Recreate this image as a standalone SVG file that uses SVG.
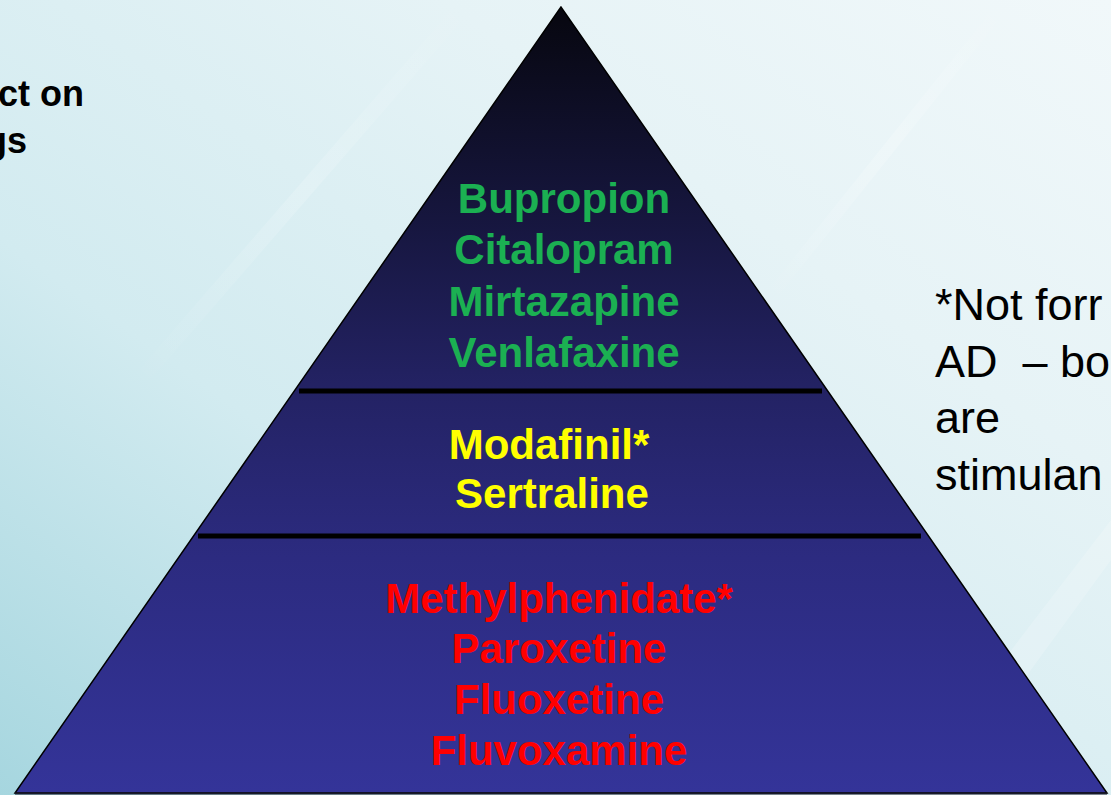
<svg xmlns="http://www.w3.org/2000/svg" width="1111" height="795" viewBox="0 0 1111 795">
  <defs>
    <linearGradient id="bg" x1="0" y1="1" x2="1" y2="0">
      <stop offset="0" stop-color="#a6d6df"/>
      <stop offset="0.35" stop-color="#d2ebf0"/>
      <stop offset="0.7" stop-color="#e6f3f6"/>
      <stop offset="1" stop-color="#f1f8fa"/>
    </linearGradient>
    <linearGradient id="pyr" x1="0" y1="0" x2="0" y2="1">
      <stop offset="0" stop-color="#07070f"/>
      <stop offset="0.2" stop-color="#121232"/>
      <stop offset="0.48" stop-color="#232263"/>
      <stop offset="0.7" stop-color="#2c2b80"/>
      <stop offset="1" stop-color="#343499"/>
    </linearGradient>
    <linearGradient id="streak" x1="0" y1="1" x2="1" y2="0">
      <stop offset="0" stop-color="#ffffff" stop-opacity="0"/>
      <stop offset="0.5" stop-color="#ffffff" stop-opacity="0.35"/>
      <stop offset="1" stop-color="#ffffff" stop-opacity="0"/>
    </linearGradient>
    <style>
      .tier { font-family: "Liberation Sans", Arial, sans-serif; font-weight: bold; font-size: 42px; text-anchor: middle; }
      .green { fill: #1bb052; }
      .yellow { fill: #ffff00; }
      .red { fill: #ff0000; }
      .divider { stroke: #000000; stroke-width: 5; }
      .side { font-family: "Liberation Sans", Arial, sans-serif; fill: #000000; }
      .title { font-weight: bold; font-size: 36px; }
      .note { font-size: 45px; }
    </style>
  </defs>

  <g id="background">
    <rect x="0" y="0" width="1111" height="795" fill="url(#bg)"/>
    <path d="M130 380 L460 0 L480 0 L150 380 Z" fill="url(#streak)" opacity="0.5"/>
    <path d="M760 300 L1000 0 L1015 0 L775 300 Z" fill="url(#streak)" opacity="0.6"/>
    <path d="M900 795 L1111 520 L1111 560 L940 795 Z" fill="#ffffff" opacity="0.18"/>
  </g>

  <g id="pyramid">
    <polygon points="561,7 15,793 1107,793" fill="url(#pyr)" stroke="#000000" stroke-width="1.5" stroke-linejoin="miter"/>
    <line x1="15" y1="793.5" x2="1107" y2="793.5" stroke="#1a1a2a" stroke-width="2"/>
  </g>

  <g id="connectors">
    <line class="divider" x1="299" y1="391" x2="822" y2="391"/>
    <line class="divider" x1="198" y1="536" x2="921" y2="536"/>
  </g>

  <g id="tier-top">
    <text class="tier green" x="564" y="213">Bupropion</text>
    <text class="tier green" x="564" y="264">Citalopram</text>
    <text class="tier green" x="564" y="316">Mirtazapine</text>
    <text class="tier green" x="564" y="367">Venlafaxine</text>
  </g>

  <g id="tier-middle">
    <text class="tier yellow" x="549" y="459">Modafinil*</text>
    <text class="tier yellow" x="552" y="508">Sertraline</text>
  </g>

  <g id="tier-bottom">
    <text class="tier red" x="559" y="613">Methylphenidate*</text>
    <text class="tier red" x="559" y="663">Paroxetine</text>
    <text class="tier red" x="559" y="714">Fluoxetine</text>
    <text class="tier red" x="559" y="765">Fluvoxamine</text>
  </g>

  <g id="left-title">
    <text class="side title" x="84" y="106" text-anchor="end">ct on</text>
    <text class="side title" x="27" y="153" text-anchor="end">gs</text>
  </g>

  <g id="footnote">
    <text class="side note" x="935" y="320">*Not forr</text>
    <text class="side note" x="935" y="377" xml:space="preserve">AD  – bo</text>
    <text class="side note" x="935" y="433">are</text>
    <text class="side note" x="935" y="490">stimulan</text>
  </g>
</svg>
